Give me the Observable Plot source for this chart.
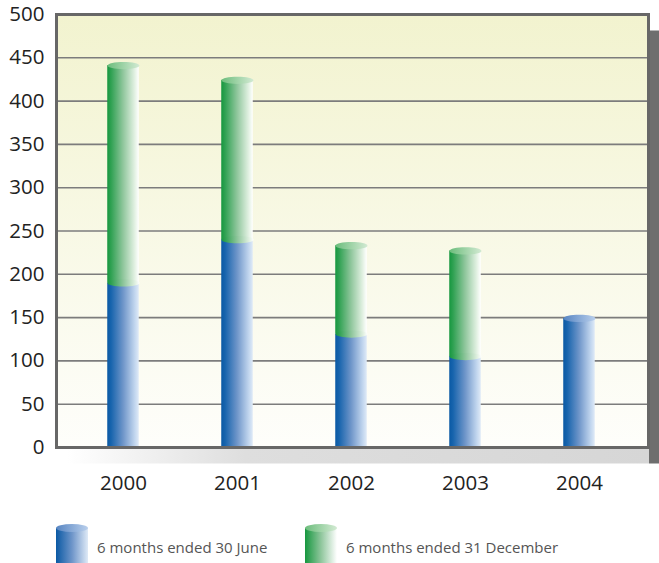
<!DOCTYPE html>
<html>
<head>
<meta charset="utf-8">
<script src="https://cdn.jsdelivr.net/npm/d3@7"></script>
<script src="https://cdn.jsdelivr.net/npm/@observablehq/plot@0.6"></script>
<style>
  html, body { margin: 0; padding: 0; background: #fff; }
  #wrap { position: relative; width: 659px; height: 563px; overflow: hidden; font-family: "Open Sans", "Noto Sans", sans-serif; }
  #chart svg { display: block; }
  .legend-item { position: absolute; top: 519px; display: flex; align-items: flex-start; }
  .legend-item span { font-size: 15px; color: #555; margin-top: 18px; margin-left: 9px; white-space: nowrap; }
</style>
</head>
<body>
<div id="wrap">
  <div id="chart"></div>
  <div id="legend"></div>
</div>
<script>
// ---- data ----
const years = ["2000", "2001", "2002", "2003", "2004"];
const firstHalf = [190, 240, 131, 105, 149];   // 6 months ended 30 June
const secondHalf = [251, 184, 102, 122, 0];    // 6 months ended 31 December
const yTicks = [0, 50, 100, 150, 200, 250, 300, 350, 400, 450, 500];
const seriesNames = ["6 months ended 30 June", "6 months ended 31 December"];

const data = years.map((year, i) => ({
  year,
  blue: firstHalf[i],
  green: secondHalf[i],
  total: firstHalf[i] + secondHalf[i]
}));

// ellipse symbol for cylinder caps
const K = 0.5523;
const capSymbol = {
  draw(context) {
    const rx = 16, ry = 3.6;
    context.moveTo(-rx, 0);
    context.bezierCurveTo(-rx, -ry * K, -rx * K, -ry, 0, -ry);
    context.bezierCurveTo(rx * K, -ry, rx, -ry * K, rx, 0);
    context.bezierCurveTo(rx, ry * K, rx * K, ry, 0, ry);
    context.bezierCurveTo(-rx * K, ry, -rx, ry * K, -rx, 0);
    context.closePath();
  }
};

const inset = (114.5 - 32) / 2;

const chart = Plot.plot({
  width: 659,
  height: 505,
  marginTop: 14,
  marginLeft: 56,
  marginRight: 11,
  marginBottom: 58,
  style: { fontSize: "20.5px", fontFamily: "'Open Sans', 'Noto Sans', sans-serif", color: "#222", background: "#fff", overflow: "visible" },
  x: { domain: years, range: [64.75, 637.25], padding: 0, tickSize: 0, tickPadding: 28, label: null },
  y: { domain: [0, 500], ticks: yTicks, tickSize: 0, tickPadding: 12, label: null },
  marks: [
    Plot.frame({ fill: "url(#gShadow)", stroke: "none", dx: 11, dy: 16 }),
    Plot.frame({ fill: "url(#gBg)", stroke: "none" }),
    Plot.ruleY(yTicks, { stroke: "#7c7c7c", strokeWidth: 1.6 }),
    Plot.barY(data, { x: "year", y1: 0, y2: "blue", fill: "url(#gBlue)", insetLeft: inset, insetRight: inset }),
    Plot.dot(data.filter(d => d.green === 0), { x: "year", y: "blue", symbol: capSymbol, fill: "url(#gBlueCap)", stroke: "none" }),
    Plot.barY(data.filter(d => d.green > 0), { x: "year", y1: "blue", y2: "total", fill: "url(#gGreen)", insetLeft: inset, insetRight: inset }),
    Plot.dot(data.filter(d => d.green > 0), { x: "year", y: "blue", symbol: capSymbol, fill: "url(#gGreen)", stroke: "none" }),
    Plot.dot(data.filter(d => d.green > 0), { x: "year", y: "total", symbol: capSymbol, fill: "url(#gGreenCap)", stroke: "none" }),
    Plot.frame({ stroke: "#676767", strokeWidth: 3, fill: "none" })
  ]
});

const defs = `
<defs>
  <linearGradient id="gBlue" x1="0" y1="0" x2="1" y2="0">
    <stop offset="0" stop-color="#0a59a4"/>
    <stop offset="0.12" stop-color="#1764ad"/>
    <stop offset="0.5" stop-color="#6e95c9"/>
    <stop offset="0.88" stop-color="#c3d7ef"/>
    <stop offset="1" stop-color="#dfeaf7"/>
  </linearGradient>
  <linearGradient id="gBlueCap" x1="0" y1="0" x2="1" y2="0">
    <stop offset="0" stop-color="#5785c2"/>
    <stop offset="1" stop-color="#b9cfec"/>
  </linearGradient>
  <linearGradient id="gGreen" x1="0" y1="0" x2="1" y2="0">
    <stop offset="0" stop-color="#16973f"/>
    <stop offset="0.12" stop-color="#2fa152"/>
    <stop offset="0.5" stop-color="#8fc69c"/>
    <stop offset="0.88" stop-color="#e4f2e4"/>
    <stop offset="1" stop-color="#ffffff"/>
  </linearGradient>
  <linearGradient id="gGreenCap" x1="0" y1="0" x2="1" y2="0">
    <stop offset="0" stop-color="#6cbd7c"/>
    <stop offset="1" stop-color="#d3ead3"/>
  </linearGradient>
  <linearGradient id="gBg" x1="0" y1="0" x2="0" y2="1">
    <stop offset="0" stop-color="#f2f3cf"/>
    <stop offset="1" stop-color="#fefefb"/>
  </linearGradient>
  <linearGradient id="gShadow" x1="0" y1="0" x2="1" y2="0">
    <stop offset="0" stop-color="#ffffff"/>
    <stop offset="0.3" stop-color="#dedede"/>
    <stop offset="0.982" stop-color="#d6d6d6"/>
    <stop offset="0.982" stop-color="#6e6e6e"/>
    <stop offset="1" stop-color="#6e6e6e"/>
  </linearGradient>
</defs>`;
chart.insertAdjacentHTML("afterbegin", defs);
document.getElementById("chart").appendChild(chart);

// legend
const legendColors = [["#0a59a4", "#6e95c9", "#dfeaf7", "#5785c2", "#b9cfec"], ["#16973f", "#8fc69c", "#ffffff", "#6cbd7c", "#d3ead3"]];
const legendX = [56, 305];
const legend = document.getElementById("legend");
seriesNames.forEach((name, i) => {
  const c = legendColors[i];
  const item = document.createElement("div");
  item.className = "legend-item";
  item.style.left = legendX[i] + "px";
  item.innerHTML = `
    <svg width="32" height="46" viewBox="0 0 32 46">
      <defs>
        <linearGradient id="lg${i}" x1="0" x2="1" y1="0" y2="0">
          <stop offset="0" stop-color="${c[0]}"/><stop offset="0.5" stop-color="${c[1]}"/><stop offset="1" stop-color="${c[2]}"/>
        </linearGradient>
        <linearGradient id="lc${i}" x1="0" x2="1" y1="0" y2="0">
          <stop offset="0" stop-color="${c[3]}"/><stop offset="1" stop-color="${c[4]}"/>
        </linearGradient>
      </defs>
      <rect x="0" y="9" width="32" height="40" fill="url(#lg${i})"/>
      <ellipse cx="16" cy="9" rx="16" ry="4" fill="url(#lc${i})"/>
    </svg>
    <span>${name}</span>`;
  legend.appendChild(item);
});
</script>
</body>
</html>
